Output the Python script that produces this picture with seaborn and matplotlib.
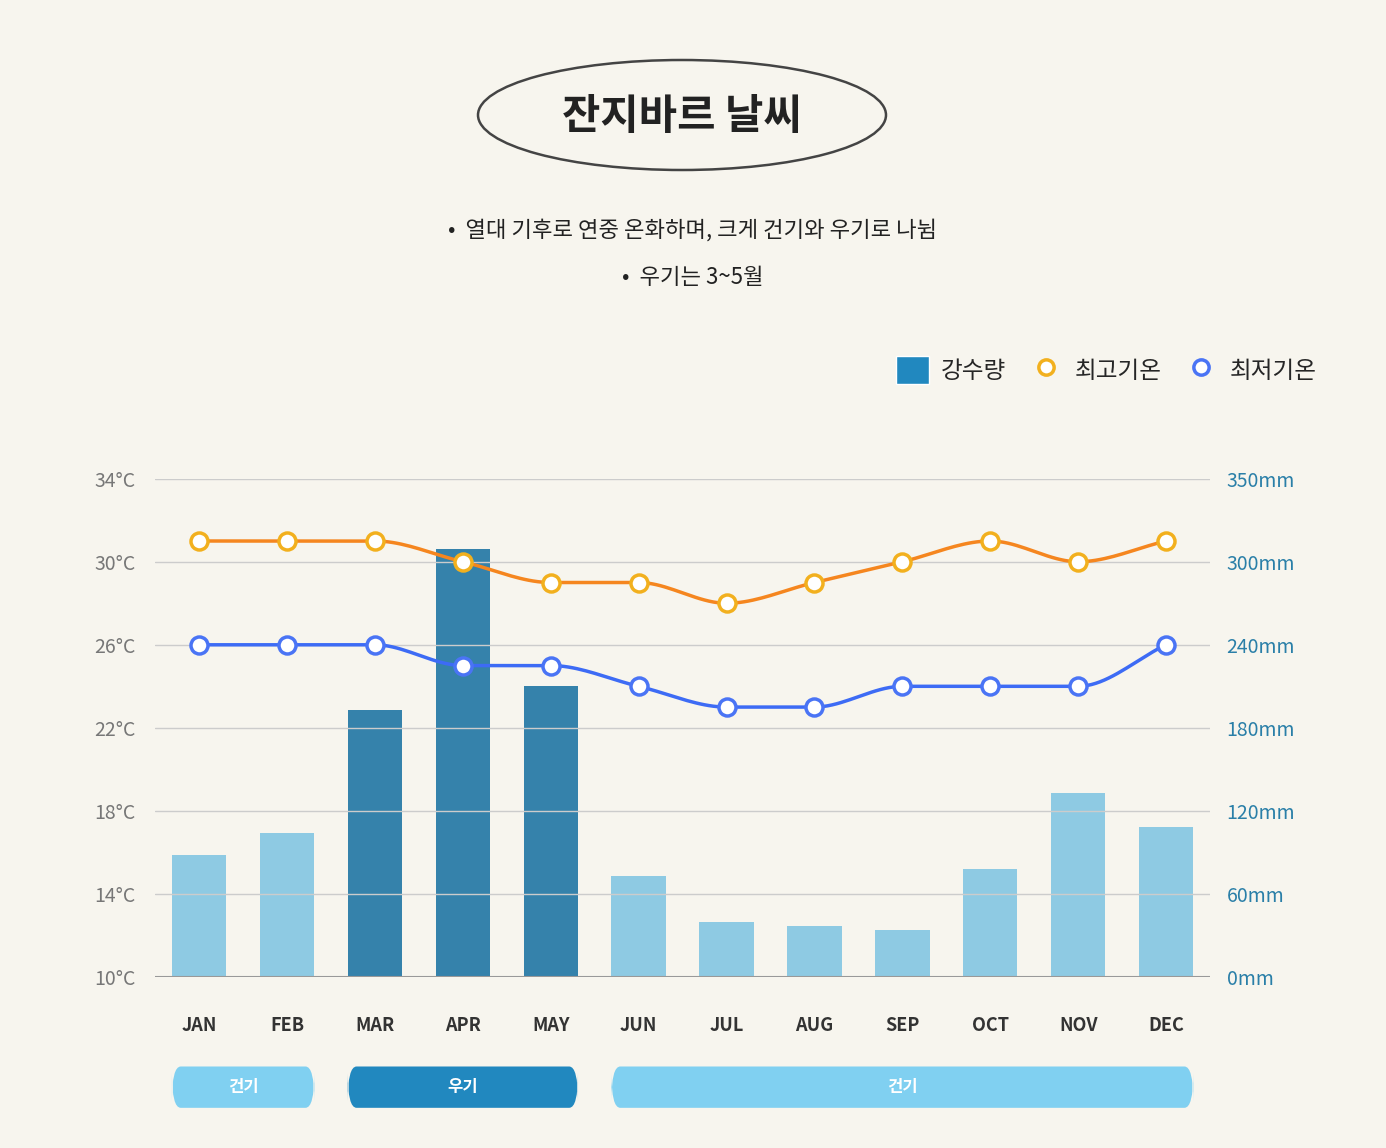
import numpy as np
import pandas as pd
import matplotlib.pyplot as plt
import seaborn as sns
from matplotlib.patches import Ellipse, FancyBboxPatch, Rectangle
from matplotlib.lines import Line2D
import matplotlib.transforms as mtrans

months = ["JAN", "FEB", "MAR", "APR", "MAY", "JUN", "JUL", "AUG", "SEP", "OCT", "NOV", "DEC"]
rain_mm = [88, 104, 193, 309, 210, 73, 40, 37, 34, 78, 133, 108]
temp_high = [31, 31, 31, 30, 29, 29, 28, 29, 30, 31, 30, 31]
temp_low = [26, 26, 26, 25, 25, 24, 23, 23, 24, 24, 24, 26]
wet_months = ["MAR", "APR", "MAY"]
seasons = [("건기", 0, 1, False), ("우기", 2, 4, True), ("건기", 5, 11, False)]

BG = "#F7F5EE"
DARK = "#2188BF"
LIGHT = "#80D0F1"
ORANGE = "#F5861F"
BLUE = "#3D6BF5"

sns.set_theme(style="white")
plt.rcParams["font.family"] = ["Noto Sans CJK KR", "DejaVu Sans"]


def smooth(y, n=20):
    # monotone cubic (Fritsch-Carlson) through the points
    y = np.asarray(y, float)
    x = np.arange(len(y))
    d = np.diff(y)
    m = np.zeros_like(y)
    for i in range(1, len(y) - 1):
        m[i] = 0 if d[i - 1] * d[i] <= 0 else 2 / (1 / d[i - 1] + 1 / d[i])
    m[0], m[-1] = d[0], d[-1]
    xs, ys = [], []
    for i in range(len(y) - 1):
        t = np.linspace(0, 1, n, endpoint=False)
        h00 = 2 * t**3 - 3 * t**2 + 1
        h10 = t**3 - 2 * t**2 + t
        h01 = -2 * t**3 + 3 * t**2
        h11 = t**3 - t**2
        xs.append(x[i] + t)
        ys.append(h00 * y[i] + h10 * m[i] + h01 * y[i + 1] + h11 * m[i + 1])
    xs.append([x[-1]])
    ys.append([y[-1]])
    return np.concatenate(xs), np.concatenate(ys)


fig = plt.figure(figsize=(13.86, 11.48), dpi=100, facecolor=BG)
ax = fig.add_axes([0.112, 0.149, 0.761, 0.434])
ax.set_facecolor("none")
ax2 = ax.twinx()
ax2.set_zorder(0)
ax.set_zorder(1)

df = pd.DataFrame({"month": months, "rain": rain_mm})
df["wet"] = df["month"].isin(wet_months)
palette = [DARK if w else LIGHT for w in df["wet"]]
sns.barplot(data=df, x="month", y="rain", hue="month", palette=palette,
            legend=False, ax=ax2, width=0.62)
for p in ax2.patches:
    p.set_linewidth(0)
ax2.set_ylim(0, 360)
ax2.set_yticks([0, 60, 120, 180, 240, 300, 360])
ax2.set_yticklabels(["0mm", "60mm", "120mm", "180mm", "240mm", "300mm", "350mm"],
                    color="#2A7FA8", fontsize=14)
ax2.set_ylabel("")

x = np.arange(12)
for vals, col, mcol in [(temp_high, ORANGE, "#F2B01E"), (temp_low, BLUE, "#4A74F5")]:
    sx, sy = smooth(vals)
    ax.plot(sx, sy, color=col, lw=2.5, zorder=3)
    sns.scatterplot(x=x, y=vals, ax=ax, s=150, color="white", edgecolor=mcol,
                    linewidth=2.5, zorder=4, legend=False)
ax.set_ylim(10, 34)
ax.set_xlim(-0.5, 11.5)
ax.set_yticks([10, 14, 18, 22, 26, 30, 34])
ax.set_yticklabels([f"{v}°C" for v in [10, 14, 18, 22, 26, 30, 34]], color="#777777", fontsize=14)
ax.set_xticks(x)
ax.set_xticklabels(months, fontsize=13, fontweight="bold", color="#333333")
ax.tick_params(axis="x", length=18, color="#888888", pad=10)
ax.tick_params(axis="y", length=0, pad=14)
ax2.tick_params(axis="y", length=0, pad=12)
ax2.tick_params(axis="x", length=0, labelbottom=False)
ax2.set_xlabel("")
ax.grid(axis="y", color="#CCCCCC", lw=1)
ax2.grid(False)
for a in (ax, ax2):
    for s in a.spines.values():
        s.set_visible(False)
ax.axhline(10, color="#999999", lw=1.5, zorder=2)

# season boxes
trans = mtrans.blended_transform_factory(ax.transData, fig.transFigure)
for label, i0, i1, wet in seasons:
    x0, x1 = i0 - 0.31, i1 + 0.31
    box = FancyBboxPatch((x0, 0.035), x1 - x0, 0.036, boxstyle="round,pad=0,rounding_size=0.1",
                         transform=trans, facecolor=DARK if wet else LIGHT, edgecolor="none",
                         clip_on=False, mutation_aspect=0.3)
    fig.add_artist(box)
    fig.text((x0 + x1) / 2, 0.053, label, transform=trans, ha="center", va="center",
             color="white", fontsize=12, fontweight="bold")

# title
fig.add_artist(Ellipse((682 / 1386, 1 - 115 / 1148), 408 / 1386, 110 / 1148,
                       transform=fig.transFigure, facecolor="none", edgecolor="#444444", lw=1.8))
fig.text(682 / 1386, 1 - 117 / 1148, "잔지바르 날씨", ha="center", va="center",
         fontsize=30, fontweight="bold", color="#222222")
fig.text(0.5, 1 - 230 / 1148, "•  열대 기후로 연중 온화하며, 크게 건기와 우기로 나뉨",
         ha="center", va="center", fontsize=16, color="#222222")
fig.text(0.5, 1 - 277 / 1148, "•  우기는 3~5월", ha="center", va="center", fontsize=16, color="#222222")

# legend
handles = [
    Rectangle((0, 0), 1, 1, facecolor=DARK),
    Line2D([], [], marker="o", ls="none", markersize=11, markerfacecolor="white",
           markeredgecolor="#F2B01E", markeredgewidth=2.5),
    Line2D([], [], marker="o", ls="none", markersize=11, markerfacecolor="white",
           markeredgecolor="#4A74F5", markeredgewidth=2.5),
]
fig.legend(handles, ["강수량", "최고기온", "최저기온"], loc="center right",
           bbox_to_anchor=(1338 / 1386, 1 - 370 / 1148), ncol=3, frameon=False,
           fontsize=17, handlelength=1.4, handleheight=1.4, columnspacing=1.0, handletextpad=0.5)

fig.savefig("out.png", dpi=100, facecolor=BG)
